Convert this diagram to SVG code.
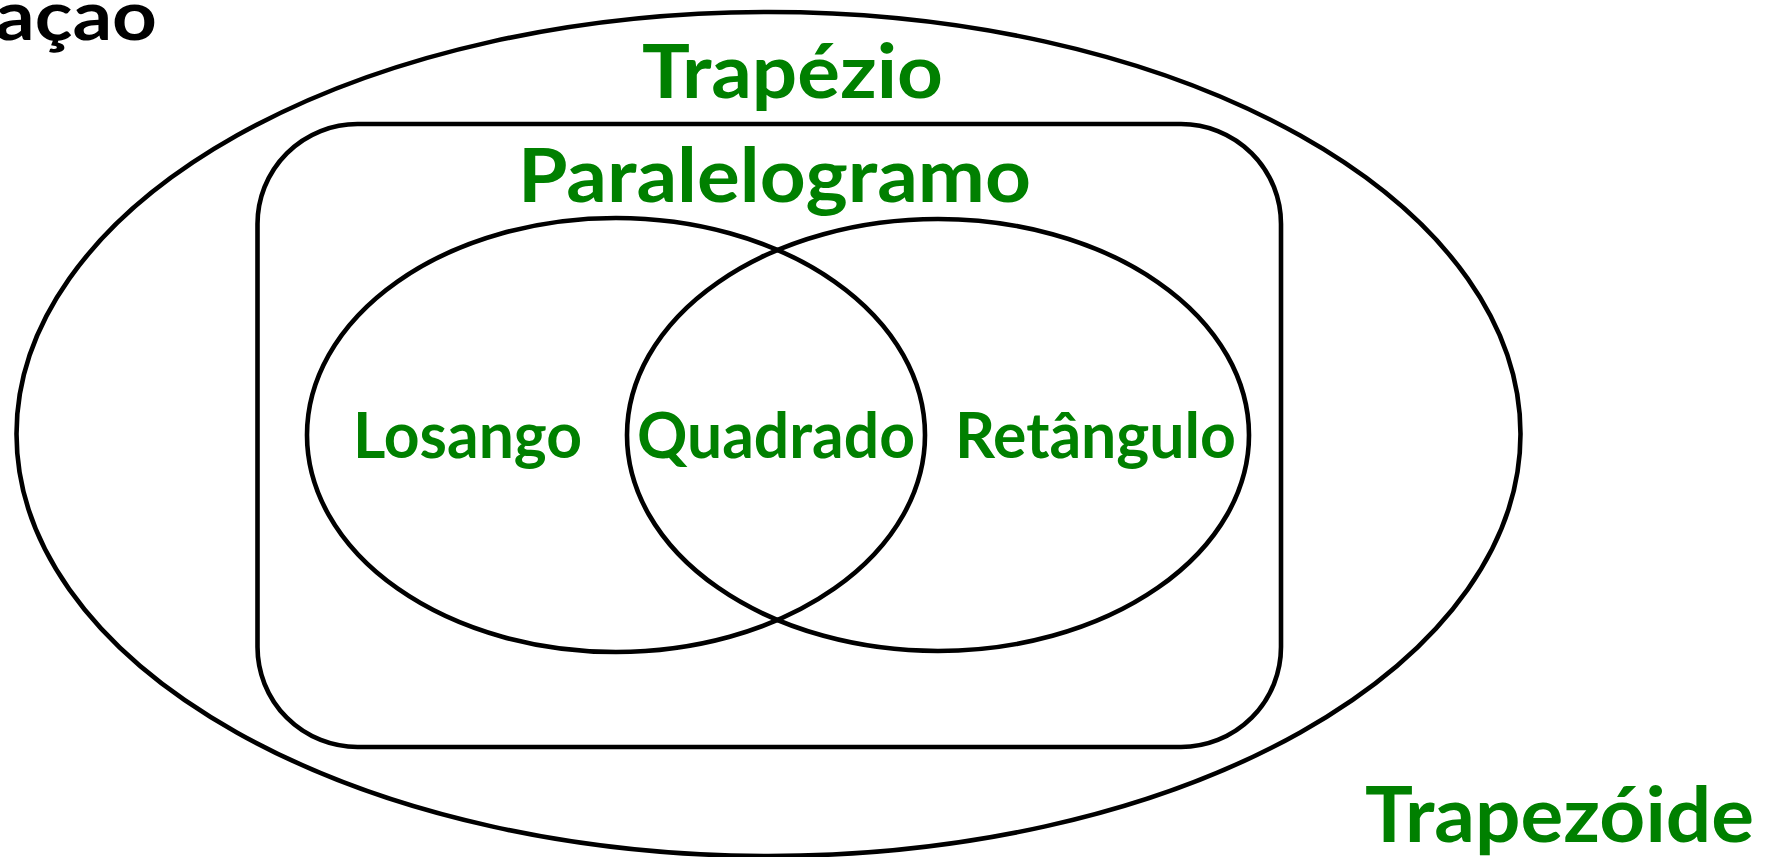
<svg xmlns="http://www.w3.org/2000/svg" width="1777" height="857" viewBox="0 0 1777 857">
<style>
.shape{fill:none;stroke:#000;stroke-width:4.6}
.lbl{font-family:Lato,"Open Sans","Liberation Sans",sans-serif;font-weight:bold;fill:#008000}
</style>
<rect width="1777" height="857" fill="#fff"/>
<g id="title"><text x="157" y="40" text-anchor="end" font-family="Lato,'Liberation Sans',sans-serif" font-weight="bold" font-size="69" fill="#000" textLength="162" lengthAdjust="spacingAndGlyphs">ação</text></g>
<g id="trapezio">
<ellipse class="shape" cx="768.5" cy="434" rx="752" ry="422"/>
<text class="lbl" x="642" y="98" font-size="75" textLength="301" lengthAdjust="spacingAndGlyphs">Trapézio</text>
</g>
<g id="paralelogramo">
<rect class="shape" x="257.5" y="124" width="1023.5" height="623" rx="100" ry="100"/>
<text class="lbl" x="518" y="202" font-size="75" textLength="513" lengthAdjust="spacingAndGlyphs">Paralelogramo</text>
</g>
<g id="losango">
<ellipse class="shape" cx="616" cy="435" rx="309" ry="217"/>
<text class="lbl" x="353" y="458" font-size="64" textLength="229" lengthAdjust="spacingAndGlyphs">Losango</text>
</g>
<g id="retangulo">
<ellipse class="shape" cx="938" cy="435" rx="311" ry="216"/>
<text class="lbl" x="955" y="458" font-size="64" textLength="281" lengthAdjust="spacingAndGlyphs">Retângulo</text>
</g>
<g id="quadrado">
<text class="lbl" x="637" y="458" font-size="64" textLength="278" lengthAdjust="spacingAndGlyphs">Quadrado</text>
</g>
<g id="trapezoide">
<text class="lbl" x="1365" y="842" font-size="76" textLength="389" lengthAdjust="spacingAndGlyphs">Trapezóide</text>
</g>
<g id="connectors"/>
</svg>
